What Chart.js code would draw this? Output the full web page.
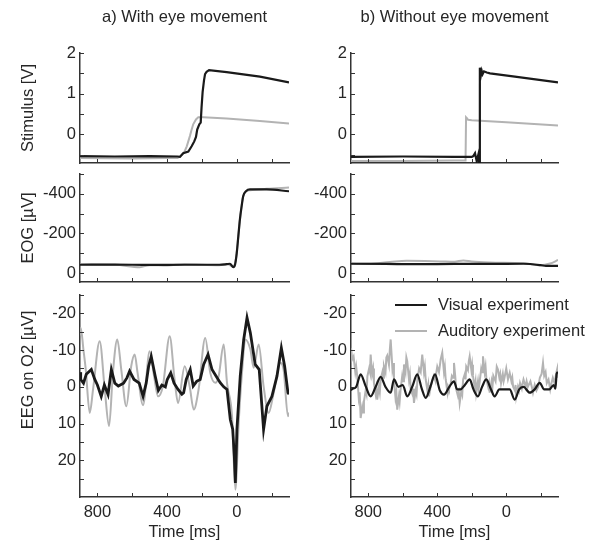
<!DOCTYPE html>
<html>
<head>
<meta charset="utf-8">
<script src="https://cdn.jsdelivr.net/npm/chart.js@4.4.0/dist/chart.umd.min.js"></script>
<style>
  body { margin: 0; background: #fff; }
  #fig { position: relative; width: 595px; height: 542px; }
  #fig canvas { position: absolute; }
</style>
</head>
<body>
<div id="fig">
  <canvas id="stimA"></canvas><canvas id="stimB"></canvas>
  <canvas id="eogA"></canvas><canvas id="eogB"></canvas>
  <canvas id="eegA"></canvas><canvas id="eegB"></canvas>
</div>
<script>
// time axis (ms, reversed)
const timeMin = -300, timeMax = 900;
const timeTicks = [800, 600, 400, 200, 0, -200];
const timeLabels = [800, 400, 0];

// y ticks per row
const stimTicks = [-0.5, 0, 0.5, 1, 1.5, 2], stimLabels = [0, 1, 2];
const eogTicks = [-500, -400, -300, -200, -100, 0], eogLabels = [-400, -200, 0];
const eegTicks = [-25, -20, -15, -10, -5, 0, 5, 10, 15, 20, 25], eegLabels = [-20, -10, 0, 10, 20];

// a) Stimulus
const stimVisA_t = [900, 700, 500, 340, 326, 307, 278, 259, 244, 234, 227, 215, 207, 202, 196, 188, 182, 173, 159, 58, -133, -300];
const stimVisA = [-0.53, -0.54, -0.53, -0.54, -0.55, -0.46, -0.42, -0.29, -0.17, -0.06, 0.12, 0.25, 0.29, 0.67, 1.04, 1.33, 1.48, 1.54, 1.58, 1.53, 1.42, 1.28];
const stimAudA_t = [900, 600, 400, 340, 326, 300, 287, 269, 259, 250, 234, 221, 192, 58, -133, -300];
const stimAudA = [-0.58, -0.59, -0.58, -0.58, -0.54, -0.42, -0.29, -0.04, 0.12, 0.25, 0.37, 0.42, 0.42, 0.39, 0.33, 0.27];
// b) Stimulus
const stimVisB_t = [900, 600, 300, 200, 191, 181, 171, 162, 157, 153, 147, 142, 137, 129, 113, 94, -50, -300];
const stimVisB = [-0.55, -0.54, -0.55, -0.55, -0.53, -0.46, -0.66, -0.5, -0.7, 1.64, 1.45, 1.56, 1.48, 1.55, 1.52, 1.5, 1.42, 1.28];
const stimAudB_t = [900, 600, 300, 236, 233, 229, 220, 200, 0, -300];
const stimAudB = [-0.65, -0.65, -0.64, -0.64, 0.42, 0.40, 0.36, 0.35, 0.30, 0.22];

// a) EOG
const eogVisA_t = [900, 700, 500, 300, 100, 58, 39, 20, 10, 0, -9, -18, -28, -37, -53, -76, -172, -300];
const eogVisA = [-42, -43, -41, -42, -42, -45, -47, -30, -42, -101, -185, -270, -337, -388, -413, -422, -422, -413];
const eogAudA_t = [900, 700, 556, 500, 400, 300, 100, 50, 30, 15, 5, -5, -15, -25, -35, -50, -76, -172, -300];
const eogAudA = [-44, -42, -30, -40, -38, -45, -40, -44, -36, -38, -70, -150, -240, -320, -380, -410, -418, -425, -432];
// b) EOG
const eogVisB_t = [900, 700, 500, 300, 100, -100, -200, -230, -300];
const eogVisB = [-47, -46, -45, -46, -46, -47, -40, -36, -36];
const eogAudB_t = [900, 800, 674, 577, 384, 300, 249, 200, 94, -99, -196, -254, -300];
const eogAudB = [-48, -47, -56, -62, -59, -57, -64, -58, -53, -49, -39, -48, -66];

// a) EEG O2
const eegVisA_t = [900, 896, 880, 864, 835, 815, 800, 778, 760, 739, 720, 700, 680, 650, 630, 615, 590, 560, 538, 520, 506, 491, 468, 450, 430, 410, 399, 379, 360, 337, 315, 305, 290, 267, 250, 230, 210, 190, 165, 142, 120, 95, 75, 56, 37, 23, 14, 8, -1, -20, -40, -59, -78, -106, -129, -154, -173, -202, -231, -256, -275, -294, -300];
const eegVisA = [-4, -2, -1, -3.4, -4.7, -2, -0.5, 2.6, -0.5, 2.1, -4.7, -1, -0.2, -1, -2.5, -4.3, -2, -1, 2.6, -1, -5.6, -8.3, -2.9, 1, -0.5, 0, -2, -3.8, -1, 0.7, 2, 1.6, -2, -4.7, -0.2, -1.5, -2, -6.1, -8.8, -4.7, -3, -1.1, 0, 0.7, 8.9, 11.6, 18.9, 26.2, 11.6, -2.9, -12.9, -18.8, -14.7, -6.1, -4.7, 11.6, 5.3, 2.6, -2.9, -10.6, -5.6, 1.6, 2];
const eegAudA_t = [900, 896, 880, 867, 844, 825, 787, 758, 733, 711, 686, 663, 634, 606, 586, 570, 538, 500, 475, 452, 424, 385, 357, 337, 299, 270, 247, 219, 181, 152, 123, 104, 75, 56, 27, 8, -11, -30, -49, -78, -97, -126, -154, -183, -212, -250, -269, -294, -300];
const eegAudA = [-14, -16.1, -10, -4.7, 7.1, 0.7, -12.4, 0.7, 10.7, -3.9, -12.9, -4.7, 5.3, -5.6, -8.8, -4, 5, -9.7, -3, 2.6, -0.2, -13.8, -2, 4.4, -5.6, 0, 6.2, 0.7, -13.3, -3.8, -1.1, -2.9, -11.5, -1.1, 8, 28, 9.8, -3.8, -12.9, -10.2, -5.2, -11.5, -0.2, 7.1, 1.6, -6.5, -4.7, 8, 7];
// b) EEG O2
const eegVisB_t = [900, 896, 870, 844, 815, 786, 757, 728, 700, 670, 651, 625, 600, 574, 545, 516, 490, 467, 440, 413, 385, 361, 330, 303, 285, 265, 240, 212, 190, 164, 140, 116, 90, 67, 40, 9, -20, -49, -75, -100, -136, -165, -194, -220, -250, -275, -285, -292, -300];
const eegVisB = [1, 0.7, 0, -3.4, -0.2, 2.6, 0, -2.7, 0, 1.6, -2, 0, -0.5, 2.6, 0, -3.4, 0.5, 3, 0, -3.4, 1, 2.1, 0, -1.5, 0.7, 0.7, -0.5, -2, 0.7, 2.6, 0, -2, 0.5, 2.6, 0.7, 0.7, 0.7, 3.5, 0.7, 0, 1.6, 0.7, -1.1, 0.7, 0.7, -0.5, 0.5, -3.5, -4];
const eegAudB_t = [
  900, 893, 885, 875, 870, 864, 855, 850, 844, 835,
  830, 825, 815, 810, 805, 795, 790, 786, 778, 772,
  767, 757, 752, 748, 738, 733, 728, 718, 714, 709,
  700, 695, 690, 680, 675, 670, 660, 655, 651, 642,
  637, 632, 622, 618, 613, 603, 598, 593, 584, 579,
  574, 564, 559, 554, 544, 540, 535, 525, 520, 515,
  505, 496, 487, 477, 472, 467, 457, 452, 448, 438,
  430, 420, 410, 405, 400, 390, 380, 371, 361, 356,
  351, 341, 337, 332, 322, 315, 308, 303, 296, 290,
  280, 275, 270, 260, 255, 250, 240, 236, 232, 222,
  217, 212, 202, 198, 193, 183, 178, 174, 164, 160,
  155, 145, 140, 135, 125, 120, 115, 105, 100, 96,
  85, 80, 75, 62, 55, 48, 40, 35, 30, 20,
  15, 10, 0, -10, -20, -30, -35, -40, -50, -54,
  -58, -68, -74, -80, -90, -95, -100, -112, -118, -125,
  -140, -148, -155, -165, -175, -185, -195, -205, -213, -220,
  -228, -235, -245, -255, -262, -270, -280, -290, -296, -300];
const eegAudB = [
  -10.6, -7.5, -8.3, -4, -5.5, -2.9, 3, 1.5, 8.5, 5.5,
  7, 4, 1, 2, -2.9, -5, -4, -8.8, -3.5, -5,
  -1, 2, 0.5, 3.5, 0, 1.5, -2, -4, -2.5, -5.6,
  -4, -8, -8.5, -6, -10, -12.9, -5, -6.5, -2, 3,
  1.5, 6.2, 2.5, 4, 1, -3, -1.5, -6.1, -4, -8,
  -7, -2, -3.5, 0.7, 2, 0.5, 4.4, 1, 2, -2,
  -5, -4, -8.8, -4, -5.5, -2, 1, -0.5, 2.6, 0,
  -1.5, -3, -1.5, -4, -5.5, -4, -7.5, -9.3, -4, -5.5,
  -2, 1.5, 0, 0.7, -1, -3, -2.5, -6.5, -3, 0.7,
  2.5, 1.5, 4.4, 1, 2, -2, -3.5, -2, -5.5, -4.5,
  -7, -8.3, -4.5, -6, -3, 0, -1.5, 1.6, -1.5, 0.5,
  -1, -5, -4, -8.3, -4, -5.5, -2, 0, -1, 1.6,
  -1.5, 0, -3, -1.5, -5.5, -4.7, -2.5, -3.5, -1, -3.5,
  -1.5, -2.5, -5, -2, -3.8, -1.5, -2.5, 0, 1, -0.5,
  2.6, 0, 1, -1, 0.5, -1, -2, 0, -1.5, 0,
  -1.5, 0, 1.6, -0.5, 1, 0, -2.5, -3.5, -6.5, -3,
  -4, -1, -2, 0.7, -1, -2.5, -1, -3.8, -5, -2.5];

// styles
const fontFam = "'Liberation Sans', Arial, sans-serif";
const fontSize = 16.5;
const txtColor = '#262626';
const axisColor = '#333';
const visColor = '#1a1a1a';
const audColor = '#b3b3b3';

// panel layout (canvas box + chart area in page px)
const cols = {
  a: {x: 0, w: 300, L: 80, R: 289},
  b: {x: 300, w: 295, L: 351, R: 558}
};
const rows = {
  stim: {y: 0, h: 180, T: 53, B: 163, xH: 0},
  eog: {y: 150, h: 150, T: 174, B: 282, xH: 0},
  eeg: {y: 270, h: 272, T: 295, B: 497, xH: 45}
};

// ticks pointing inwards
const inTicks = {
  id: 'inTicks',
  afterDraw(chart) {
    const {ctx, chartArea: a, scales} = chart;
    ctx.save();
    ctx.strokeStyle = axisColor;
    ctx.lineWidth = 1;
    ctx.beginPath();
    scales.x.ticks.forEach(t => {
      const px = Math.round(scales.x.getPixelForValue(t.value)) + 0.5;
      ctx.moveTo(px, a.bottom);
      ctx.lineTo(px, a.bottom - 4);
    });
    scales.y.ticks.forEach(t => {
      const py = Math.round(scales.y.getPixelForValue(t.value)) + 0.5;
      ctx.moveTo(a.left, py);
      ctx.lineTo(a.left + 4, py);
    });
    ctx.stroke();
    ctx.restore();
  }
};

// rotated y title on the left side
const yLabel = {
  id: 'yLabel',
  afterDraw(chart, args, opts) {
    if (!opts.text) return;
    const {ctx, chartArea: a} = chart;
    ctx.save();
    ctx.translate(opts.x, (a.top + a.bottom) / 2 + (opts.shift || 0));
    ctx.rotate(-Math.PI / 2);
    ctx.font = fontSize + 'px ' + fontFam;
    ctx.fillStyle = txtColor;
    ctx.textAlign = 'center';
    ctx.textBaseline = 'middle';
    ctx.fillText(opts.text, 0, 0);
    ctx.restore();
  }
};

// legend inside the lower right panel
const legendBox = {
  id: 'legendBox',
  afterDraw(chart, args, opts) {
    if (!opts.show) return;
    const {ctx, chartArea: a} = chart;
    ctx.save();
    ctx.font = fontSize + 'px ' + fontFam;
    ctx.textBaseline = 'middle';
    chart.data.datasets.forEach((ds, i) => {
      const y = a.top + opts.y0 + i * opts.dy;
      ctx.strokeStyle = ds.borderColor;
      ctx.lineWidth = 2;
      ctx.beginPath();
      ctx.moveTo(a.left + opts.x0, y);
      ctx.lineTo(a.left + opts.x1, y);
      ctx.stroke();
      ctx.fillStyle = txtColor;
      ctx.fillText(ds.label, a.left + opts.tx, y);
    });
    ctx.restore();
  }
};

function series(label, t, v, color, width, smooth) {
  return {
    label: label,
    data: t.map((x, i) => ({x: x, y: v[i]})),
    borderColor: color,
    borderWidth: width,
    pointRadius: 0,
    fill: false,
    tension: 0,
    cubicInterpolationMode: smooth ? 'monotone' : 'default'
  };
}

function makePanel(id, col, row, y, datasets, extra) {
  const cv = document.getElementById(id);
  cv.width = col.w;
  cv.height = row.h;
  cv.style.left = col.x + 'px';
  cv.style.top = row.y + 'px';
  const titleH = extra.title ? row.T - row.y : 0;
  const bottomRow = row === rows.eeg;

  return new Chart(cv, {
    type: 'line',
    data: {datasets: datasets},
    plugins: [inTicks, yLabel, legendBox],
    options: {
      responsive: false,
      animation: false,
      events: [],
      layout: {
        padding: {
          left: 0,
          right: col.x + col.w - col.R,
          top: row.T - row.y - titleH,
          bottom: row.y + row.h - row.B - row.xH
        }
      },
      plugins: {
        legend: {display: false},
        tooltip: {enabled: false},
        title: {
          display: !!extra.title,
          text: extra.title || '',
          fullSize: false,
          color: txtColor,
          font: {family: fontFam, size: fontSize, weight: 'normal', lineHeight: 1.2},
          padding: {top: 8, bottom: titleH - 8 - fontSize * 1.2}
        },
        yLabel: {text: extra.yTitle, x: 28, shift: extra.yShift || 0},
        legendBox: {show: !!extra.legend, x0: 44, x1: 76, tx: 87, y0: 10, dy: 26}
      },
      scales: {
        x: {
          type: 'linear',
          reverse: true,
          min: timeMin,
          max: timeMax,
          grid: {display: false, drawTicks: false},
          border: {display: true, color: axisColor, width: 1.5},
          afterBuildTicks: s => { s.ticks = timeTicks.map(v => ({value: v})); },
          afterFit: s => { s.height = row.xH; },
          ticks: {
            display: bottomRow,
            autoSkip: false,
            maxRotation: 0,
            padding: 6,
            color: txtColor,
            font: {family: fontFam, size: fontSize},
            callback: v => timeLabels.includes(v) ? String(v) : ''
          },
          title: {
            display: bottomRow,
            text: 'Time [ms]',
            color: txtColor,
            font: {family: fontFam, size: fontSize},
            padding: {top: 0, bottom: 0}
          }
        },
        y: {
          type: 'linear',
          reverse: !!y.reverse,
          min: y.min,
          max: y.max,
          grid: {display: false, drawTicks: false},
          border: {display: true, color: axisColor, width: 1.5},
          afterBuildTicks: s => { s.ticks = y.ticks.map(v => ({value: v})); },
          afterFit: s => { s.width = col.L - col.x; },
          ticks: {
            autoSkip: false,
            padding: 4,
            color: txtColor,
            font: {family: fontFam, size: fontSize},
            callback: v => y.labels.includes(v) ? String(v) : ''
          }
        }
      }
    }
  });
}

const stimY = {min: -0.7, max: 2, ticks: stimTicks, labels: stimLabels};
const eogY = {min: -500, max: 45, reverse: true, ticks: eogTicks, labels: eogLabels};
const eegY = {min: -25, max: 30, reverse: true, ticks: eegTicks, labels: eegLabels};

makePanel('stimA', cols.a, rows.stim, stimY, [
  series('Visual experiment', stimVisA_t, stimVisA, visColor, 2.2, false),
  series('Auditory experiment', stimAudA_t, stimAudA, audColor, 2, false)
], {title: 'a) With eye movement', yTitle: 'Stimulus [V]'});

makePanel('stimB', cols.b, rows.stim, stimY, [
  series('Visual experiment', stimVisB_t, stimVisB, visColor, 2.2, false),
  series('Auditory experiment', stimAudB_t, stimAudB, audColor, 2, false)
], {title: 'b) Without eye movement'});

makePanel('eogA', cols.a, rows.eog, eogY, [
  series('Visual experiment', eogVisA_t, eogVisA, visColor, 2.2, true),
  series('Auditory experiment', eogAudA_t, eogAudA, audColor, 2, true)
], {yTitle: 'EOG [µV]'});

makePanel('eogB', cols.b, rows.eog, eogY, [
  series('Visual experiment', eogVisB_t, eogVisB, visColor, 2.2, true),
  series('Auditory experiment', eogAudB_t, eogAudB, audColor, 2, true)
], {});

makePanel('eegA', cols.a, rows.eeg, eegY, [
  series('Visual experiment', eegVisA_t, eegVisA, visColor, 2.8, false),
  series('Auditory experiment', eegAudA_t, eegAudA, audColor, 2, true)
], {yTitle: 'EEG on O2 [µV]', yShift: -26});

makePanel('eegB', cols.b, rows.eeg, eegY, [
  series('Visual experiment', eegVisB_t, eegVisB, visColor, 2.2, true),
  series('Auditory experiment', eegAudB_t, eegAudB, audColor, 2, false)
], {legend: true});
</script>
</body>
</html>
